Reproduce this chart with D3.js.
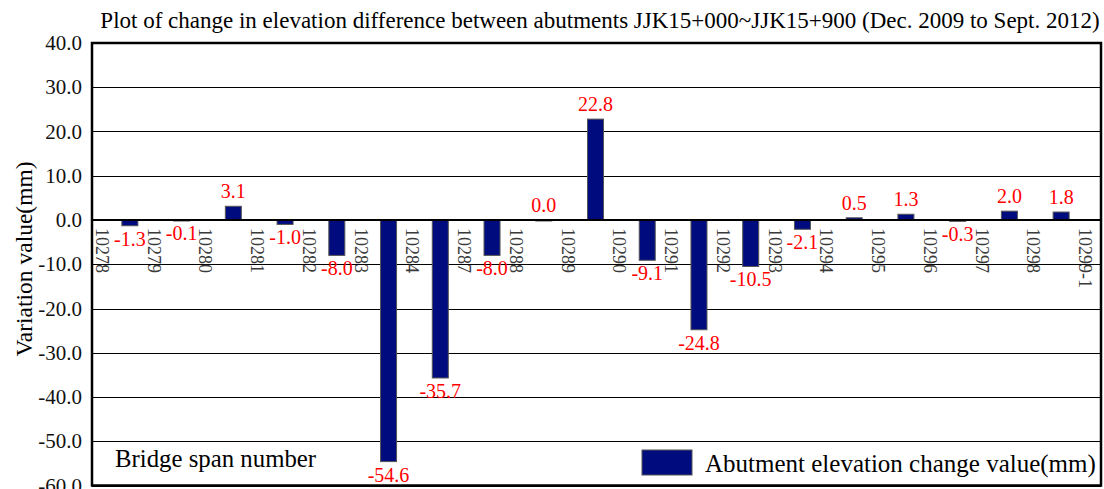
<!DOCTYPE html>
<html>
<head>
    <meta charset="utf-8">
    <title>Abutment elevation change</title>
    <script src="https://d3js.org/d3.v7.min.js"></script>
    <style>
        body { margin: 0; background: #fff; }
        svg text { font-family: "Liberation Serif", "Times New Roman", "DejaVu Serif", serif; }
        .grid line { stroke: #000; stroke-width: 1px; }
        .bar { fill: #000c7e; stroke: #555; stroke-width: 1px; }
    </style>
</head>
<body>
    <div id="chart"></div>
    <script>
        // 桥跨编号 (labels sit between the bars)
        const spans = ["10278", "10279", "10280", "10281", "10282", "10283", "10284", "10287",
            "10288", "10289", "10290", "10291", "10292", "10293", "10294", "10295",
            "10296", "10297", "10298", "10299-1"];
        // 桥台高程变化值 (mm)
        const values = [-1.3, -0.1, 3.1, -1.0, -8.0, -54.6, -35.7, -8.0, 0.0, 22.8,
            -9.1, -24.8, -10.5, -2.1, 0.5, 1.3, -0.3, 2.0, 1.8];
        const yTicks = [40, 30, 20, 10, 0, -10, -20, -30, -40, -50, -60];

        const width = 1104, height = 489;
        const plot = { left: 92, right: 1101, top: 43, bottom: 485.5 };
        const serif = '"Liberation Serif", "Times New Roman", "DejaVu Serif", serif';

        const svg = d3.select("#chart").append("svg")
            .attr("width", width)
            .attr("height", height)
            .attr("font-family", serif);

        const y = d3.scaleLinear()
            .domain([-60, 40])
            .range([plot.bottom, plot.top]);

        const x = d3.scalePoint()
            .domain(spans)
            .range([103, 1086]);

        const barW = 16;
        const barX = i => (x(spans[i]) + x(spans[i + 1])) / 2 + 1;

        // 标题
        svg.append("text")
            .attr("x", 600)
            .attr("y", 28)
            .attr("text-anchor", "middle")
            .style("font-family", serif)
            .style("font-size", "23px")
            .text("Plot of change in elevation difference between abutments JJK15+000~JJK15+900 (Dec. 2009 to Sept. 2012)");

        // 网格线
        svg.append("g")
            .attr("class", "grid")
            .selectAll("line")
            .data(yTicks)
            .join("line")
            .attr("x1", plot.left)
            .attr("x2", plot.right)
            .attr("y1", d => Math.round(y(d)) + 0.5)
            .attr("y2", d => Math.round(y(d)) + 0.5);

        // 刻度标签
        svg.selectAll(".tick-label")
            .data(yTicks)
            .join("text")
            .attr("class", "tick-label")
            .attr("x", 82)
            .attr("y", d => y(d))
            .attr("dy", "0.34em")
            .attr("text-anchor", "end")
            .style("font-family", serif)
            .style("font-size", "21px")
            .style("fill", "#111")
            .text(d => d.toFixed(1));

        // 柱子
        svg.selectAll(".bar")
            .data(values)
            .join("rect")
            .attr("class", "bar")
            .attr("x", (d, i) => barX(i) - barW / 2)
            .attr("width", barW)
            .attr("y", d => y(Math.max(0, d)))
            .attr("height", d => Math.max(1, Math.abs(y(d) - y(0))));

        // 零线
        svg.append("line")
            .attr("x1", plot.left)
            .attr("x2", plot.right)
            .attr("y1", y(0))
            .attr("y2", y(0))
            .style("stroke", "#000")
            .style("stroke-width", "2px");

        // 数值标签
        svg.selectAll(".value-label")
            .data(values)
            .join("text")
            .attr("class", "value-label")
            .attr("x", (d, i) => barX(i))
            .attr("y", d => d >= 0 ? y(d) - 8 : y(d) + 20)
            .attr("text-anchor", "middle")
            .style("font-family", serif)
            .style("font-size", "20px")
            .style("fill", "#ff0000")
            .text(d => d.toFixed(1));

        // 桥跨编号 (竖排)
        svg.selectAll(".span-label")
            .data(spans)
            .join("text")
            .attr("class", "span-label")
            .attr("transform", d => `translate(${x(d) - 7},${y(0) + 8}) rotate(90)`)
            .attr("text-anchor", "start")
            .style("font-family", serif)
            .style("font-size", "18px")
            .style("fill", "#3a3a3a")
            .text(d => d);

        // 外框
        svg.append("rect")
            .attr("x", plot.left)
            .attr("y", plot.top)
            .attr("width", plot.right - plot.left)
            .attr("height", plot.bottom - plot.top)
            .style("fill", "none")
            .style("stroke", "#000")
            .style("stroke-width", "2.5px");

        // 轴标题
        svg.append("text")
            .attr("transform", `translate(32,259) rotate(-90)`)
            .attr("text-anchor", "middle")
            .style("font-family", serif)
            .style("font-size", "23.5px")
            .text("Variation value(mm)");

        svg.append("text")
            .attr("x", 115)
            .attr("y", 466.5)
            .style("font-family", serif)
            .style("font-size", "24.8px")
            .text("Bridge span number");

        // 图例
        svg.append("rect")
            .attr("class", "bar")
            .attr("x", 642)
            .attr("y", 450)
            .attr("width", 50)
            .attr("height", 25);

        svg.append("text")
            .attr("x", 705)
            .attr("y", 472)
            .style("font-family", serif)
            .style("font-size", "25px")
            .text("Abutment elevation change value(mm)");
    </script>
</body>
</html>
